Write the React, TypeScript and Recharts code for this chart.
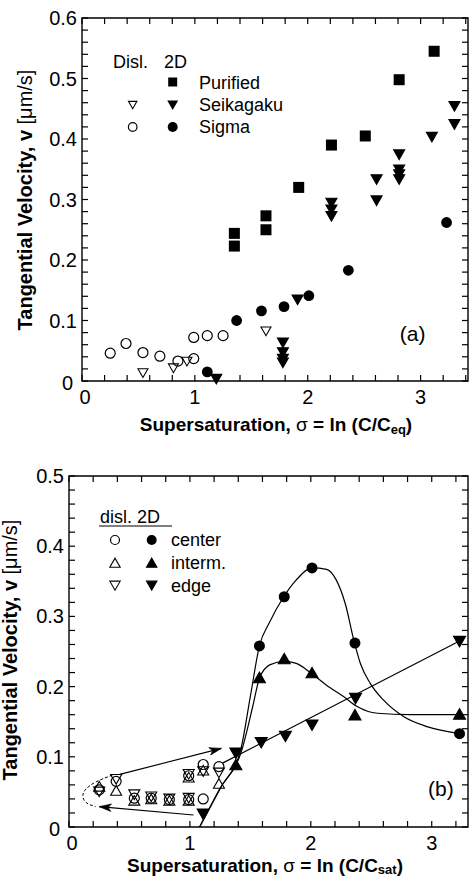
import React from 'react';
import { ComposedChart, Scatter, Line, XAxis, YAxis, ReferenceArea, Legend } from 'recharts';

const FONT = '"Liberation Sans", Arial, Helvetica, sans-serif';
const W = 469;

// ---- panel (a) data ----
const purified2D = [
  { x: 1.35, y: 0.244 }, { x: 1.35, y: 0.223 }, { x: 1.63, y: 0.273 }, { x: 1.63, y: 0.25 },
  { x: 1.92, y: 0.32 }, { x: 2.21, y: 0.39 }, { x: 2.51, y: 0.405 }, { x: 2.81, y: 0.498 },
  { x: 3.12, y: 0.545 },
];
const seikagaku2D = [
  { x: 1.19, y: 0.003 }, { x: 1.78, y: 0.063 }, { x: 1.78, y: 0.047 }, { x: 1.78, y: 0.036 },
  { x: 1.78, y: 0.03 }, { x: 1.91, y: 0.134 }, { x: 2.21, y: 0.294 }, { x: 2.21, y: 0.283 },
  { x: 2.21, y: 0.272 }, { x: 2.61, y: 0.333 }, { x: 2.61, y: 0.298 }, { x: 2.81, y: 0.374 },
  { x: 2.81, y: 0.349 }, { x: 2.81, y: 0.341 }, { x: 2.81, y: 0.333 }, { x: 3.1, y: 0.403 },
  { x: 3.3, y: 0.454 }, { x: 3.3, y: 0.424 },
];
const sigma2D = [
  { x: 1.11, y: 0.015 }, { x: 1.37, y: 0.1 }, { x: 1.59, y: 0.116 }, { x: 1.79, y: 0.123 },
  { x: 2.01, y: 0.141 }, { x: 2.36, y: 0.183 }, { x: 3.23, y: 0.262 },
];
const sigmaDisl = [
  { x: 0.25, y: 0.046 }, { x: 0.39, y: 0.062 }, { x: 0.54, y: 0.047 }, { x: 0.69, y: 0.041 },
  { x: 0.85, y: 0.033 }, { x: 0.99, y: 0.037 }, { x: 0.99, y: 0.072 }, { x: 1.11, y: 0.075 },
  { x: 1.25, y: 0.075 },
];
const seikagakuDisl = [
  { x: 0.54, y: 0.013 }, { x: 0.81, y: 0.021 }, { x: 0.93, y: 0.032 }, { x: 1.63, y: 0.082 },
];

// ---- panel (b) data ----
const center2D = [
  { x: 1.575, y: 0.258 }, { x: 1.78, y: 0.328 }, { x: 2.01, y: 0.369 }, { x: 2.365, y: 0.262 },
  { x: 3.23, y: 0.133 },
];
const interm2D = [
  { x: 1.38, y: 0.089 }, { x: 1.575, y: 0.213 }, { x: 1.78, y: 0.24 }, { x: 2.01, y: 0.22 },
  { x: 2.365, y: 0.16 }, { x: 3.23, y: 0.161 },
];
const edge2D = [
  { x: 1.11, y: 0.018 }, { x: 1.38, y: 0.105 }, { x: 1.59, y: 0.12 }, { x: 1.79, y: 0.129 },
  { x: 2.01, y: 0.145 }, { x: 2.37, y: 0.183 }, { x: 3.23, y: 0.264 },
];
const centerDisl = [
  { x: 0.25, y: 0.053 }, { x: 0.39, y: 0.065 }, { x: 0.54, y: 0.041 }, { x: 0.68, y: 0.041 },
  { x: 0.83, y: 0.039 }, { x: 0.99, y: 0.039 }, { x: 0.99, y: 0.073 }, { x: 1.11, y: 0.04 },
  { x: 1.11, y: 0.089 }, { x: 1.24, y: 0.086 },
];
const intermDisl = [
  { x: 0.25, y: 0.058 }, { x: 0.39, y: 0.052 }, { x: 0.54, y: 0.038 }, { x: 0.68, y: 0.04 },
  { x: 0.83, y: 0.038 }, { x: 0.99, y: 0.038 }, { x: 0.99, y: 0.071 }, { x: 1.11, y: 0.081 },
  { x: 1.24, y: 0.062 },
];
const edgeDisl = [
  { x: 0.25, y: 0.05 }, { x: 0.39, y: 0.068 }, { x: 0.54, y: 0.046 }, { x: 0.68, y: 0.043 },
  { x: 0.83, y: 0.04 }, { x: 0.99, y: 0.041 }, { x: 0.99, y: 0.075 }, { x: 1.11, y: 0.079 },
  { x: 1.24, y: 0.077 },
];

// fitted curves as drawn in the figure
const centerFit = [
  { x: 1.08, y: 0 }, { x: 1.25, y: 0.055 }, { x: 1.42, y: 0.11 }, { x: 1.5, y: 0.186 },
  { x: 1.575, y: 0.258 }, { x: 1.66, y: 0.292 }, { x: 1.78, y: 0.329 }, { x: 1.88, y: 0.352 },
  { x: 2.01, y: 0.369 }, { x: 2.13, y: 0.367 }, { x: 2.21, y: 0.352 }, { x: 2.285, y: 0.318 },
  { x: 2.36, y: 0.263 }, { x: 2.41, y: 0.233 }, { x: 2.49, y: 0.205 }, { x: 2.6, y: 0.181 },
  { x: 2.77, y: 0.157 }, { x: 2.96, y: 0.143 }, { x: 3.23, y: 0.133 },
];
const intermFit = [
  { x: 1.08, y: 0 }, { x: 1.25, y: 0.055 }, { x: 1.43, y: 0.11 }, { x: 1.52, y: 0.172 },
  { x: 1.575, y: 0.212 }, { x: 1.66, y: 0.231 }, { x: 1.78, y: 0.236 }, { x: 1.88, y: 0.233 },
  { x: 2.01, y: 0.218 }, { x: 2.13, y: 0.202 }, { x: 2.27, y: 0.186 }, { x: 2.38, y: 0.172 },
  { x: 2.55, y: 0.162 }, { x: 2.82, y: 0.16 }, { x: 3.23, y: 0.16 },
];
const edgeFit = [{ x: 1.27, y: 0.091 }, { x: 3.23, y: 0.265 }];
const upperArrow = [{ x: 0.42, y: 0.075 }, { x: 1.26, y: 0.112 }];
const lowerArrow = [{ x: 1.03, y: 0.017 }, { x: 0.25, y: 0.029 }];
const dashedLoop = [
  { x: 0.36, y: 0.074 }, { x: 0.22, y: 0.064 }, { x: 0.14, y: 0.054 }, { x: 0.115, y: 0.045 },
  { x: 0.14, y: 0.035 }, { x: 0.22, y: 0.029 },
];

// ticks
const xTicksA = [0, 0.2, 0.4, 0.6, 0.8, 1, 1.2, 1.4, 1.6, 1.8, 2, 2.2, 2.4, 2.6, 2.8, 3, 3.2, 3.4];
const yTicksA = [
  0, 0.02, 0.04, 0.06, 0.08, 0.1, 0.12, 0.14, 0.16, 0.18, 0.2, 0.22, 0.24, 0.26, 0.28, 0.3,
  0.32, 0.34, 0.36, 0.38, 0.4, 0.42, 0.44, 0.46, 0.48, 0.5, 0.52, 0.54, 0.56, 0.58, 0.6,
];
const xTicksB = [0, 0.2, 0.4, 0.6, 0.8, 1, 1.2, 1.4, 1.6, 1.8, 2, 2.2, 2.4, 2.6, 2.8, 3, 3.2];
const yTicksB = [
  0, 0.02, 0.04, 0.06, 0.08, 0.1, 0.12, 0.14, 0.16, 0.18, 0.2, 0.22, 0.24, 0.26, 0.28, 0.3,
  0.32, 0.34, 0.36, 0.38, 0.4, 0.42, 0.44, 0.46, 0.48, 0.5,
];

type Geo = { h: number; left: number; top: number; right: number; bottom: number };
const GA: Geo = { h: 440, left: 82, top: 18, right: 468, bottom: 381 };
const GB: Geo = { h: 444, left: 69, top: 36, right: 468, bottom: 387 };
const TICK = 6;

const isInt = (v: number) => Math.abs(v - Math.round(v)) < 1e-6;

const makeXTick = (g: Geo) => (props: any) => {
  const { x, payload } = props;
  const v = payload.value;
  return (
    <g>
      <line x1={x} x2={x} y1={g.bottom} y2={g.bottom - TICK} stroke="#000" strokeWidth={1.2} />
      <line x1={x} x2={x} y1={g.top} y2={g.top + TICK} stroke="#000" strokeWidth={1.2} />
      {isInt(v) && (
        <text x={x + (v === 0 ? 3 : 0)} y={g.bottom + 16} textAnchor="middle" dominantBaseline="central"
          fontFamily={FONT} fontSize={20} fill="#000">{String(Math.round(v))}</text>
      )}
    </g>
  );
};

const makeYTick = (g: Geo) => (props: any) => {
  const { y, payload } = props;
  const v = payload.value;
  return (
    <g>
      <line x1={g.left} x2={g.left + TICK} y1={y} y2={y} stroke="#000" strokeWidth={1.2} />
      <line x1={g.right} x2={g.right - TICK} y1={y} y2={y} stroke="#000" strokeWidth={1.2} />
      {isInt(v * 10) && (
        <text x={g.left - (v === 0 ? 9 : 5)} y={y + (v === 0 ? 2 : 0)} textAnchor="end" dominantBaseline="central"
          fontFamily={FONT} fontSize={20} fill="#000">{v === 0 ? '0' : v.toFixed(1)}</text>
      )}
    </g>
  );
};

type Kind = 'sq' | 'dot' | 'ring' | 'down' | 'downOpen' | 'up' | 'upOpen';

const Mark = ({ kind, cx, cy, s }: { kind: Kind; cx: number; cy: number; s: number }) => {
  const h = s * 1.75;
  switch (kind) {
    case 'sq':
      return <rect x={cx - s} y={cy - s} width={2 * s} height={2 * s} fill="#000" />;
    case 'dot':
      return <circle cx={cx} cy={cy} r={s} fill="#000" />;
    case 'ring':
      return <circle cx={cx} cy={cy} r={s} fill="none" stroke="#000" strokeWidth={1.2} />;
    case 'down':
    case 'downOpen':
      return (
        <path d={`M${cx - s},${cy - h / 2} L${cx + s},${cy - h / 2} L${cx},${cy + h / 2} Z`}
          fill={kind === 'down' ? '#000' : 'none'} stroke="#000" strokeWidth={1.1} strokeLinejoin="miter" />
      );
    default:
      return (
        <path d={`M${cx - s},${cy + h / 2} L${cx + s},${cy + h / 2} L${cx},${cy - h / 2} Z`}
          fill={kind === 'up' ? '#000' : 'none'} stroke="#000" strokeWidth={1.1} strokeLinejoin="miter" />
      );
  }
};

const shape = (kind: Kind, s: number) => (p: any) => <Mark kind={kind} cx={p.cx} cy={p.cy} s={s} />;

const arrowHead = (fallbackDeg: number) => (props: any) => {
  const { cx, cy, index, points } = props;
  const n = points ? points.length : 2;
  if (index !== n - 1) return <g key={`ah-${index}`} />;
  let deg = fallbackDeg;
  if (points && index > 0) {
    const p = points[index - 1];
    deg = (Math.atan2(cy - p.y, cx - p.x) * 180) / Math.PI;
  }
  return (
    <path key={`ah-${index}`} d="M0,0 L-12,-3.8 L-9,0 L-12,3.8 Z"
      transform={`translate(${cx},${cy}) rotate(${deg})`} fill="#000" stroke="#000" strokeWidth={0.6} />
  );
};

const yTitle = (x: number, cy: number) => () => (
  <text transform={`translate(${x},${cy}) rotate(-90)`} textAnchor="middle" fontFamily={FONT}
    fontSize={20} fill="#000">
    <tspan fontWeight="bold">Tangential Velocity, v </tspan>
    <tspan>[μm/s]</tspan>
  </text>
);

const xTitle = (cx: number, y: number, sub: string, dy: number) => () => (
  <text x={cx} y={y} textAnchor="middle" fontFamily={FONT} fontSize={19} fontWeight="bold" fill="#000">
    Supersaturation, <tspan fontWeight="normal">σ</tspan> = ln (C/C
    <tspan fontSize={13} dy={dy}>{sub}</tspan>
    <tspan dy={-dy}>)</tspan>
  </text>
);

const txt = { fontFamily: FONT, fill: '#000', dominantBaseline: 'central' as const };

const legendA = () => (
  <svg width={W} height={GA.h} style={{ position: 'absolute', left: 0, top: 0, overflow: 'visible' }}>
    <text x={113} y={62} fontSize={18} {...txt}>Disl.</text>
    <text x={164} y={62} fontSize={18} {...txt}>2D</text>
    <Mark kind="sq" cx={172.7} cy={82} s={4.5} />
    <Mark kind="downOpen" cx={132.7} cy={105} s={4.2} />
    <Mark kind="down" cx={172.7} cy={105} s={4.5} />
    <Mark kind="ring" cx={132.7} cy={127} s={4.3} />
    <Mark kind="dot" cx={172.7} cy={127} s={5} />
    <text x={199} y={83} fontSize={18} {...txt}>Purified</text>
    <text x={199} y={105} fontSize={18} {...txt}>Seikagaku</text>
    <text x={199} y={127} fontSize={18} {...txt}>Sigma</text>
    <text x={412.7} y={333} fontSize={21} textAnchor="middle" {...txt}>(a)</text>
  </svg>
);

const legendB = () => (
  <svg width={W} height={GB.h} style={{ position: 'absolute', left: 0, top: 0, overflow: 'visible' }}>
    <text x={100} y={76.7} fontSize={18} {...txt}>disl. 2D</text>
    <line x1={99} x2={172} y1={86} y2={86} stroke="#000" strokeWidth={1} />
    <Mark kind="ring" cx={115} cy={100} s={4.5} />
    <Mark kind="dot" cx={151.7} cy={100} s={5} />
    <Mark kind="upOpen" cx={115} cy={122.7} s={5.2} />
    <Mark kind="up" cx={151.7} cy={122.7} s={5.2} />
    <Mark kind="downOpen" cx={115} cy={145.7} s={5.2} />
    <Mark kind="down" cx={151.7} cy={145.7} s={5.2} />
    <text x={171} y={100} fontSize={18} {...txt}>center</text>
    <text x={171} y={122.7} fontSize={18} {...txt}>interm.</text>
    <text x={171} y={145.7} fontSize={18} {...txt}>edge</text>
    <text x={440.8} y={348.3} fontSize={21} textAnchor="middle" {...txt}>(b)</text>
  </svg>
);

const XMAX_A = 3.42;
const XMAX_B = 3.3;

export default function App() {
  return (
    <div style={{ position: 'absolute', left: 0, top: 0, width: W, height: 884, background: '#fff' }}>
      <div style={{ position: 'absolute', left: 0, top: 0 }}>
        <ComposedChart width={W} height={GA.h}
          margin={{ top: GA.top, right: W - GA.right, bottom: 0, left: 0 }}>
          <XAxis dataKey="x" type="number" domain={[0, XMAX_A]} ticks={xTicksA} interval={0}
            tickLine={false} axisLine={false} tick={makeXTick(GA)} height={GA.h - GA.bottom}
            label={xTitle(276, 431, 'eq', 3)} />
          <YAxis dataKey="y" type="number" domain={[0, 0.6]} ticks={yTicksA} interval={0}
            tickLine={false} axisLine={false} tick={makeYTick(GA)} width={GA.left}
            label={yTitle(32, 200)} />
          <ReferenceArea x1={0} x2={XMAX_A} y1={0} y2={0.6} stroke="#000" strokeWidth={1.4}
            fill="none" fillOpacity={0} ifOverflow="visible" />
          <Scatter data={sigmaDisl} shape={shape('ring', 5)} isAnimationActive={false} />
          <Scatter data={seikagakuDisl} shape={shape('downOpen', 5)} isAnimationActive={false} />
          <Scatter data={purified2D} shape={shape('sq', 5.5)} isAnimationActive={false} />
          <Scatter data={seikagaku2D} shape={shape('down', 5.5)} isAnimationActive={false} />
          <Scatter data={sigma2D} shape={shape('dot', 5.4)} isAnimationActive={false} />
          <Legend content={legendA} layout="vertical" align="center" verticalAlign="middle"
            width={W} height={GA.h} wrapperStyle={{ left: 0, top: 0 }} />
        </ComposedChart>
      </div>
      <div style={{ position: 'absolute', left: 0, top: 440 }}>
        <ComposedChart width={W} height={GB.h}
          margin={{ top: GB.top, right: W - GB.right, bottom: 0, left: 0 }}>
          <XAxis dataKey="x" type="number" domain={[0, XMAX_B]} ticks={xTicksB} interval={0}
            tickLine={false} axisLine={false} tick={makeXTick(GB)} height={GB.h - GB.bottom}
            label={xTitle(265, 432, 'sat', 2)} />
          <YAxis dataKey="y" type="number" domain={[0, 0.5]} ticks={yTicksB} interval={0}
            tickLine={false} axisLine={false} tick={makeYTick(GB)} width={GB.left}
            label={yTitle(17, 210)} />
          <ReferenceArea x1={0} x2={XMAX_B} y1={0} y2={0.5} stroke="#000" strokeWidth={1.4}
            fill="none" fillOpacity={0} ifOverflow="visible" />
          <Line data={centerFit} dataKey="y" type="monotone" stroke="#000" strokeWidth={1.2}
            dot={false} activeDot={false} isAnimationActive={false} />
          <Line data={intermFit} dataKey="y" type="monotone" stroke="#000" strokeWidth={1.2}
            dot={false} activeDot={false} isAnimationActive={false} />
          <Line data={edgeFit} dataKey="y" type="linear" stroke="#000" strokeWidth={1.2}
            dot={false} activeDot={false} isAnimationActive={false} />
          <Line data={dashedLoop} dataKey="y" type="natural" stroke="#000" strokeWidth={1}
            strokeDasharray="3 2" dot={false} activeDot={false} isAnimationActive={false} />
          <Line data={upperArrow} dataKey="y" type="linear" stroke="#000" strokeWidth={1.1}
            dot={arrowHead(-14)} activeDot={false} isAnimationActive={false} />
          <Line data={lowerArrow} dataKey="y" type="linear" stroke="#000" strokeWidth={1.1}
            dot={arrowHead(-175)} activeDot={false} isAnimationActive={false} />
          <Scatter data={centerDisl} shape={shape('ring', 5)} isAnimationActive={false} />
          <Scatter data={intermDisl} shape={shape('upOpen', 5.5)} isAnimationActive={false} />
          <Scatter data={edgeDisl} shape={shape('downOpen', 5.5)} isAnimationActive={false} />
          <Scatter data={center2D} shape={shape('dot', 5.5)} isAnimationActive={false} />
          <Scatter data={interm2D} shape={shape('up', 6)} isAnimationActive={false} />
          <Scatter data={edge2D} shape={shape('down', 6)} isAnimationActive={false} />
          <Legend content={legendB} layout="vertical" align="center" verticalAlign="middle"
            width={W} height={GB.h} wrapperStyle={{ left: 0, top: 0 }} />
        </ComposedChart>
      </div>
    </div>
  );
}
